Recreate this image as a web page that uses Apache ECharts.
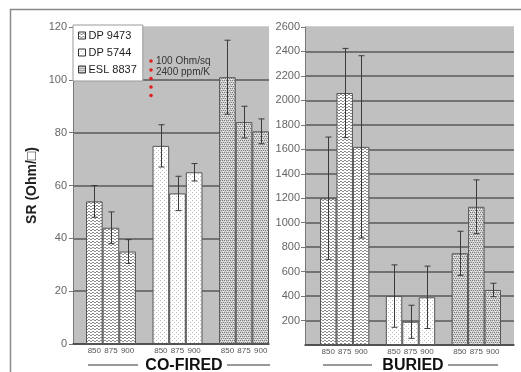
<!DOCTYPE html>
<html>
<head>
<meta charset="utf-8">
<script src="https://cdn.jsdelivr.net/npm/echarts@6/dist/echarts.min.js"></script>
<style>
  html, body { margin: 0; padding: 0; background: #fff; }
  #chart { width: 521px; height: 372px; }
</style>
</head>
<body>
<div id="chart"></div>
<script>
// Sheet resistance of three pastes, co-fired vs. buried, at three firing temperatures
const pastes = ['DP 9473', 'DP 5744', 'ESL 8837'];
const temps = ['850', '875', '900'];

// Co-fired (Ohm/sq)
const cofired9473 = [54, 44, 35];
const cofired9473Err = [6, 6, 4.5];
const cofired5744 = [75, 57, 65];
const cofired5744Err = [8, 6.5, 3.3];
const cofired8837 = [101, 84, 80.5];
const cofired8837Err = [14, 6, 4.7];

// Buried (Ohm/sq)
const buried9473 = [1200, 2060, 1620];
const buried9473Err = [500, 365, 745];
const buried5744 = [400, 190, 390];
const buried5744Err = [255, 135, 255];
const buried8837 = [750, 1130, 450];
const buried8837Err = [180, 220, 55];

const leftTicks = { min: 0, max: 120, interval: 20 };
const rightTicks = { min: 0, max: 2600, interval: 200 };

const FONT = '"Liberation Sans", Arial, sans-serif';

// Hatch fills for the three pastes
function makePattern(kind) {
  const c = document.createElement('canvas');
  const ctx = c.getContext('2d');
  if (kind === 0) {
    // horizontal wavy lines
    c.width = 4; c.height = 3;
    ctx.fillStyle = '#ffffff'; ctx.fillRect(0, 0, 4, 3);
    ctx.fillStyle = '#8c8c8c';
    ctx.fillRect(0, 1, 2, 1);
    ctx.fillRect(2, 2, 2, 1);
  } else if (kind === 1) {
    // sparse light dots
    c.width = 4; c.height = 4;
    ctx.fillStyle = '#ffffff'; ctx.fillRect(0, 0, 4, 4);
    ctx.fillStyle = '#bdbdbd';
    ctx.fillRect(0, 0, 1, 1);
    ctx.fillRect(2, 2, 1, 1);
  } else {
    // dense dark dots
    c.width = 4; c.height = 4;
    ctx.fillStyle = '#cfcfcf'; ctx.fillRect(0, 0, 4, 4);
    ctx.fillStyle = '#7e7e7e';
    ctx.fillRect(0, 0, 1, 1); ctx.fillRect(2, 0, 1, 1);
    ctx.fillRect(1, 2, 1, 1); ctx.fillRect(3, 2, 1, 1);
    ctx.fillStyle = '#f4f4f4';
    ctx.fillRect(1, 1, 1, 1); ctx.fillRect(3, 3, 1, 1);
  }
  return { image: c, repeat: 'repeat' };
}
const fills = [makePattern(0), makePattern(1), makePattern(2)];

// 11 slots per panel: three groups of three bars with one empty slot between groups
const slotLabels = [];
for (let g = 0; g < 3; g++) {
  temps.forEach(t => slotLabels.push(t));
  if (g < 2) slotLabels.push('');
}
function slotIndex(group, k) { return group * 4 + k; }

function barData(group, values) {
  const d = new Array(11).fill('-');
  values.forEach((v, k) => { d[slotIndex(group, k)] = v; });
  return d;
}
function errData(group, values, errs) {
  return values.map((v, k) => [slotIndex(group, k), v, errs[k]]);
}

const panels = [
  { axis: 1, stack: 'L', sets: [[cofired9473, cofired9473Err], [cofired5744, cofired5744Err], [cofired8837, cofired8837Err]] },
  { axis: 3, stack: 'R', sets: [[buried9473, buried9473Err], [buried5744, buried5744Err], [buried8837, buried8837Err]] }
];

function renderErr(params, api) {
  const x = api.value(0), v = api.value(1), e = api.value(2);
  const top = api.coord([x, v + e]);
  const bot = api.coord([x, v - e]);
  const cx = Math.round(top[0]) + 0.5;
  const hw = 3;
  const st = { stroke: '#3a3a3a', lineWidth: 1 };
  return {
    type: 'group',
    children: [
      { type: 'line', shape: { x1: cx, y1: top[1], x2: cx, y2: bot[1] }, style: st },
      { type: 'line', shape: { x1: cx - hw, y1: top[1], x2: cx + hw, y2: top[1] }, style: st },
      { type: 'line', shape: { x1: cx - hw, y1: bot[1], x2: cx + hw, y2: bot[1] }, style: st }
    ]
  };
}

const series = [];
panels.forEach(p => {
  p.sets.forEach((s, g) => {
    series.push({
      type: 'bar',
      name: pastes[g],
      xAxisIndex: p.axis, yAxisIndex: p.axis,
      stack: p.stack,
      barCategoryGap: '0%',
      data: barData(g, s[0]),
      itemStyle: { color: fills[g], borderColor: '#555', borderWidth: 1 },
      emphasis: { disabled: true },
      z: 3
    });
  });
  p.sets.forEach((s, g) => {
    series.push({
      type: 'custom',
      xAxisIndex: p.axis, yAxisIndex: p.axis,
      renderItem: renderErr,
      data: errData(g, s[0], s[1]),
      z: 5,
      silent: true
    });
  });
});

const splitColorsLeft = ['#5a5a5a', '#5a5a5a', '#5a5a5a', '#5a5a5a', '#5a5a5a', '#5a5a5a', '#c0c0c0'];
const splitColorsRight = new Array(13).fill('#5a5a5a').concat(['#c0c0c0']);

function valueAxis(grid, ticks, opts) {
  return Object.assign({
    type: 'value', gridIndex: grid,
    min: ticks.min, max: ticks.max, interval: ticks.interval
  }, opts);
}

const hiddenValue = { show: false, splitLine: { show: false } };
const axisLabelStyle = { color: '#666', fontSize: 11, fontFamily: FONT, margin: 6, formatter: v => String(v) };

const option = {
  animation: false,
  grid: [
    { left: 73, top: 27, width: 196, height: 317, show: true, backgroundColor: '#c0c0c0', borderWidth: 0 },
    { left: 86, top: 27, width: 183, height: 317 },
    { left: 305, top: 27, width: 209, height: 318, show: true, backgroundColor: '#c0c0c0', borderWidth: 0 },
    { left: 320, top: 27, width: 181, height: 318 }
  ],
  xAxis: [
    { type: 'category', gridIndex: 0, data: [''], axisLine: { lineStyle: { color: '#444', width: 1.5 } }, axisTick: { show: false }, axisLabel: { show: false } },
    { type: 'category', gridIndex: 1, data: slotLabels, axisLine: { show: false }, axisTick: { show: false },
      axisLabel: { color: '#555', fontSize: 8, fontFamily: FONT, margin: 3, interval: 0 } },
    { type: 'category', gridIndex: 2, data: [''], axisLine: { lineStyle: { color: '#444', width: 1.5 } }, axisTick: { show: false }, axisLabel: { show: false } },
    { type: 'category', gridIndex: 3, data: slotLabels, axisLine: { show: false }, axisTick: { show: false },
      axisLabel: { color: '#555', fontSize: 8, fontFamily: FONT, margin: 3, interval: 0 } }
  ],
  yAxis: [
    valueAxis(0, leftTicks, {
      name: 'SR (Ohm/\u25A1)', nameLocation: 'middle', nameGap: 34,
      nameTextStyle: { fontSize: 14, fontWeight: 'bold', color: '#222', fontFamily: FONT },
      axisLine: { show: true, lineStyle: { color: '#777' } },
      axisTick: { show: true, length: 4, lineStyle: { color: '#777' } },
      axisLabel: axisLabelStyle,
      splitLine: { show: true, lineStyle: { color: splitColorsLeft, width: 1.5 } }
    }),
    valueAxis(1, leftTicks, hiddenValue),
    valueAxis(2, rightTicks, {
      axisLine: { show: true, lineStyle: { color: '#777' } },
      axisTick: { show: true, length: 4, lineStyle: { color: '#777' } },
      axisLabel: Object.assign({}, axisLabelStyle, { margin: 5, showMinLabel: false }),
      splitLine: { show: true, lineStyle: { color: splitColorsRight, width: 1.5 } }
    }),
    valueAxis(3, rightTicks, hiddenValue)
  ],
  legend: {
    data: pastes,
    orient: 'vertical',
    left: 73, top: 25,
    backgroundColor: '#ffffff',
    borderColor: '#9a9a9a', borderWidth: 1,
    padding: [5, 6, 6, 5],
    itemWidth: 7, itemHeight: 7, itemGap: 6,
    icon: 'rect',
    itemStyle: { borderColor: '#333', borderWidth: 1 },
    textStyle: { fontSize: 11, color: '#222', fontFamily: FONT, padding: [0, 0, 0, -2] },
    selectedMode: false
  },
  graphic: [
    // outer frame
    { type: 'rect', silent: true, z: -1, shape: { x: 10.5, y: 9.5, width: 520, height: 380 },
      style: { fill: 'none', stroke: '#8a8a8a', lineWidth: 1.5 } },
    // red dotted marker and note
    ...[61, 70, 78.5, 87, 95.5].map(y => ({
      type: 'circle', silent: true, z: 10, shape: { cx: 151, cy: y, r: 1.8 }, style: { fill: '#e02020' }
    })),
    { type: 'text', silent: true, z: 10, x: 156, y: 61, style: { text: '100 Ohm/sq', fontSize: 10, fontFamily: FONT, fill: '#333', verticalAlign: 'middle' } },
    { type: 'text', silent: true, z: 10, x: 156, y: 72, style: { text: '2400 ppm/K', fontSize: 10, fontFamily: FONT, fill: '#333', verticalAlign: 'middle' } },
    // group captions
    { type: 'text', silent: true, x: 184, y: 366, style: { text: 'CO-FIRED', fontSize: 16, fontWeight: 'bold', fontFamily: FONT, fill: '#111', align: 'center', verticalAlign: 'middle' } },
    { type: 'line', silent: true, shape: { x1: 88, y1: 365, x2: 138, y2: 365 }, style: { stroke: '#777', lineWidth: 1.5 } },
    { type: 'line', silent: true, shape: { x1: 227, y1: 365, x2: 270, y2: 365 }, style: { stroke: '#777', lineWidth: 1.5 } },
    { type: 'text', silent: true, x: 413, y: 366, style: { text: 'BURIED', fontSize: 16, fontWeight: 'bold', fontFamily: FONT, fill: '#111', align: 'center', verticalAlign: 'middle' } },
    { type: 'line', silent: true, shape: { x1: 323, y1: 365, x2: 372, y2: 365 }, style: { stroke: '#777', lineWidth: 1.5 } },
    { type: 'line', silent: true, shape: { x1: 448, y1: 365, x2: 498, y2: 365 }, style: { stroke: '#777', lineWidth: 1.5 } }
  ],
  series: series
};

const chart = echarts.init(document.getElementById('chart'), null, { renderer: 'canvas' });
chart.setOption(option);
</script>
</body>
</html>
